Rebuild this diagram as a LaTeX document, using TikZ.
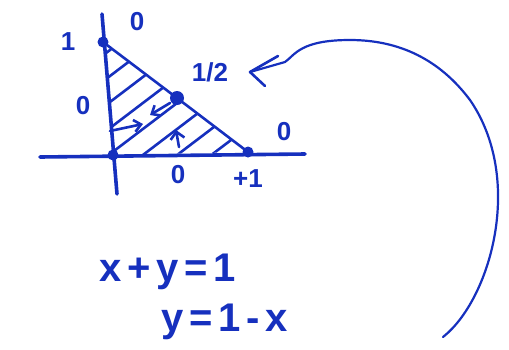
\documentclass[tikz,border=0pt]{standalone}
\usepackage{fontspec}
\setmainfont{Liberation Sans}
\usetikzlibrary{arrows.meta}
\definecolor{ink}{RGB}{22,48,190}
\begin{document}
\begin{tikzpicture}[x=1pt,y=-1pt,
  pen/.style={draw=ink,line width=3.6pt,line cap=round,line join=round},
  thin pen/.style={draw=ink,line width=2.6pt,line cap=round,line join=round},
  curve pen/.style={draw=ink,line width=2.2pt,line cap=round,line join=round},
  hand/.style={text=ink,font=\fontsize{26}{26}\selectfont\bfseries},
  big/.style={text=ink,font=\fontsize{40}{40}\selectfont\bfseries\addfontfeatures{LetterSpace=14}},
  dot/.style={circle,fill=ink,inner sep=0pt,minimum size=11pt}]
\useasboundingbox (0,0) rectangle (509,349);
% points
\node[dot] (top) at (103,42) {};
\node[dot] (org) at (113,155) {};
\node[dot] (rgt) at (248,152) {};
\node[dot,minimum size=14pt] (mid) at (177,98) {};
% axes
\coordinate (ytop) at (102,14);
\coordinate (ybot) at (117,194);
\coordinate (xl) at (40,157);
\coordinate (xr) at (305,154);
\draw[pen] (ytop) -- (ybot);
\draw[pen] (xl) -- (xr);
% hypotenuse
\draw[thin pen] (top.center) -- (mid.center) -- (rgt.center);
% hatching
\begin{scope}
\clip (103,42) -- (113,155) -- (248,152) -- cycle;
\foreach \c in {62,88,114,140,166,192,218,244,270}{
  \draw[thin pen] (60,\c) -- ++(250,-190);
}
\end{scope}
% small arrows
\coordinate (a1s) at (110,131);
\coordinate (a1e) at (143,124);
\draw[thin pen,-{Straight Barb[length=7pt,width=12pt]}] (a1s) -- (a1e);
\coordinate (a2s) at (170,103);
\coordinate (a2e) at (150,115);
\draw[thin pen,-{Straight Barb[length=7pt,width=12pt]}] (a2s) -- (a2e);
\coordinate (a3s) at (179,147);
\coordinate (a3e) at (176,130);
\draw[thin pen,-{Straight Barb[length=7pt,width=14pt]}] (a3s) -- (a3e);
% labels
\node[hand] (l1) at (68,42) {1};
\node[hand] (l0a) at (137,22) {0};
\node[hand] (l0b) at (83,106) {0};
\node[hand] (lh) at (210,72) {1/2};
\node[hand] (l0c) at (284,132) {0};
\node[hand] (l0d) at (178,175) {0};
\node[hand] (lp1) at (248,179) {+1};
% equations
\node[big,anchor=west] (eq1) at (96,272) {x+y=1};
\node[big,anchor=west] (eq2) at (158,322) {y=1-x};
% curved arrow
\coordinate (cend) at (443,337);
\coordinate (ctip) at (250,72);
\draw[curve pen] (cend) .. controls (490,300) and (525,180) .. (470,100)
  .. controls (440,60) and (400,40) .. (350,40)
  .. controls (300,40) and (295,55) .. (285,62)
  -- (ctip);
\draw[thin pen] (278,56) -- (ctip) -- (265,86);
\end{tikzpicture}
\end{document}
